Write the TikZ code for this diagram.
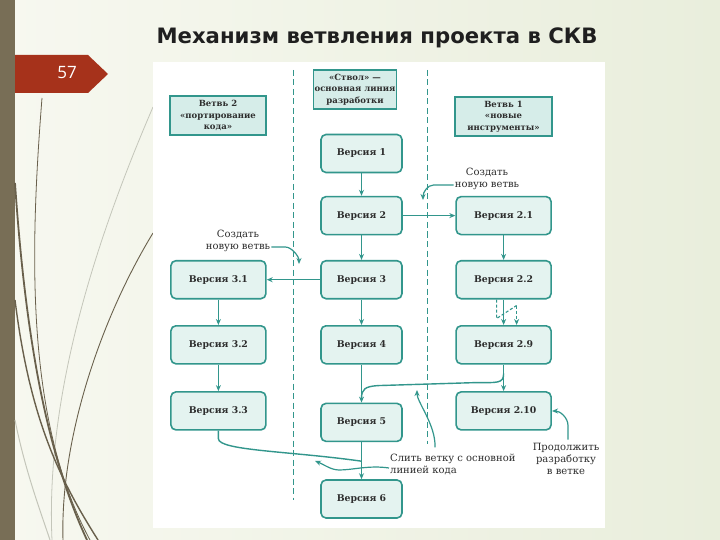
\documentclass[tikz,border=0pt]{standalone}
\usepackage{fontspec}
\usetikzlibrary{positioning, arrows.meta, calc}
\newfontfamily\diagfont{DejaVu Serif}
\newfontfamily\titlefont{DejaVu Sans}
\newfontfamily\numfont{Open Sans}

\definecolor{bgleft}{RGB}{247,248,240}
\definecolor{bgright}{RGB}{233,238,220}
\definecolor{stripbrown}{RGB}{120,110,86}
\definecolor{tabred}{RGB}{166,50,27}
\definecolor{grassdark}{RGB}{105,96,76}
\definecolor{grasslight}{RGB}{196,198,186}
\definecolor{tealline}{RGB}{50,150,140}
\definecolor{boxfill}{RGB}{228,243,240}
\definecolor{headfill}{RGB}{214,237,233}
\definecolor{inkgray}{RGB}{45,45,45}

\tikzset{
  verbox/.style={draw=tealline, fill=boxfill, line width=1.6pt, rounded corners=5pt,
    minimum width=81pt, minimum height=38pt, text=inkgray,
    font=\diagfont\bfseries\fontsize{9.3}{12}\selectfont},
  widebox/.style={verbox, minimum width=95pt},
  headbox/.style={draw=tealline, fill=headfill, line width=1.6pt, align=center,
    minimum height=39pt, inner sep=1pt, text=inkgray,
    font=\diagfont\bfseries\fontsize{8.5}{11.5}\selectfont},
  note/.style={align=center, text=inkgray, inner sep=2pt,
    font=\diagfont\fontsize{10}{12}\selectfont},
  flowline/.style={draw=tealline, line width=1.4pt},
  flow/.style={flowline, -{Stealth[length=6pt,width=5pt]}},
  callout/.style={draw=tealline, line width=1.2pt, -{Stealth[length=6pt,width=5pt]}},
  sepline/.style={draw=tealline, line width=1pt, dash pattern=on 6pt off 3.5pt},
}

\begin{document}
\begin{tikzpicture}[x=1pt, y=-1pt]
\useasboundingbox (0,0) rectangle (720,540);

% slide background
\shade[left color=bgleft, right color=bgright] (0,0) rectangle (720,540);
\fill[stripbrown] (0,0) rectangle (14.5,540);
\draw[grasslight, line width=0.8pt] (153,107) .. controls (100,230) and (45,390) .. (52,540);
\draw[grasslight, line width=1pt] (15,420) .. controls (25,470) and (40,510) .. (50,540);
\draw[grassdark, line width=0.9pt] (153,233) .. controls (100,320) and (60,440) .. (63,540);
\draw[grassdark, line width=0.8pt] (42,98) .. controls (30,250) and (25,420) .. (90,540);
\draw[grassdark, line width=1.8pt] (15,183) .. controls (25,330) and (45,450) .. (87,540);
\draw[grassdark, line width=1.4pt] (15,300) .. controls (30,420) and (60,480) .. (98,540);

% page tab and title
\fill[tabred] (15,55) -- (88,55) -- (108,74) -- (88,93) -- (15,93) -- cycle;
\node (pagenum) at (67,73) [text=white, font=\numfont\fontsize{17}{17}\selectfont] {57};
\node (title) at (377,38) [text=black!88, font=\titlefont\bfseries\fontsize{21.2}{24}\selectfont]
  {Механизм ветвления проекта в СКВ};

% white panel
\fill[white] (153,62) rectangle (605,528);

% branch separators
\draw[sepline] (293,70) -- (293,500);
\draw[sepline] (427,70) -- (427,444);

% headers
\node (hbranch2) [headbox, minimum width=96pt] at (218,115.5) {Ветвь 2\\«портирование\\кода»};
\node (htrunk) [headbox, minimum width=83pt] at (355,89.5) {«Ствол» —\\основная линия\\разработки};
\node (hbranch1) [headbox, minimum width=97pt] at (503.5,116.5) {Ветвь 1\\«новые\\инструменты»};

% trunk
\node (v1) [verbox] at (361.5,153.5) {Версия 1};
\node (v2) [verbox, below=22.5pt of v1] {Версия 2};
\node (v3) [verbox, below=24.5pt of v2] {Версия 3};
\node (v4) [verbox, below=25.5pt of v3] {Версия 4};
\node (v5) [verbox, below=38pt of v4] {Версия 5};
\node (v6) [verbox, below=37pt of v5] {Версия 6};

% branch 1
\node (v21) [widebox, right=52.5pt of v2] {Версия 2.1};
\node (v22) [widebox, right=52.5pt of v3] {Версия 2.2};
\node (v29) [widebox, right=52.5pt of v4] {Версия 2.9};
\node (v210) [widebox, below=26.5pt of v29] {Версия 2.10};

% branch 2
\node (v31) [widebox, left=53.5pt of v3] {Версия 3.1};
\node (v32) [widebox, left=53.5pt of v4] {Версия 3.2};
\node (v33) [widebox, below=26.5pt of v32] {Версия 3.3};

% notes
\node (nnew1) [note] at (487,179) {Создать\\новую ветвь};
\node (nnew2) [note] at (238,241) {Создать\\новую ветвь};
\node (nmerge) [note, align=left, anchor=west] at (388,464) {Слить ветку с основной\\линией кода};
\node (ncont) [note] at (566,458.5) {Продолжить\\разработку\\в ветке};

\coordinate (newtip1) at (423,200);
\coordinate (newtip2) at (299,264);
\coordinate (mergetip1) at (315,461);
\coordinate (mergetip2) at (417,390);
\coordinate (conttip) at (552,411);

% versions
\draw[flow] (v1) -- (v2);
\draw[flow] (v2) -- (v3);
\draw[flow] (v3) -- (v4);
\draw[flow] (v4) -- (v5);
\draw[flow] (v5) -- (v6);
\draw[flow] (v2) -- (v21);
\draw[flow] (v3) -- (v31);
\draw[flow] (v21) -- (v22);
\draw[flow] (v22) -- (v29);
\draw[flow] (v29) -- (v210);
\draw[flow] (v31) -- (v32);
\draw[flow] (v32) -- (v33);

% skipped versions 2.3 ... 2.8
\draw[flowline, line width=1.1pt, dash pattern=on 3pt off 2pt] ($(v22.south)+(-7,0)$) -- ++(0,19) -- ($(v22.south)+(13,6)$);
\draw[flow, line width=1.1pt, dash pattern=on 3pt off 2pt] ($(v22.south)+(13,6)$) -- ($(v29.north)+(13,0)$);

% merges
\draw[flowline] ($(v29.south)+(0,9)$) .. controls +(0,10) and +(22,0) .. ($(v29.south)+(-28,18)$)
  -- ($(v4.south)+(16,21)$) .. controls +(-12,1) and +(0,-10) .. ($(v4.south)+(0,34)$);
\draw[flowline] (v33.south) -- ++(0,8) .. controls +(0,12) and +(-70,-10) .. ($(v5.south)+(0,19)$);

% callouts
\draw[callout] ($(nnew1.west)+(1,6)$) -- ++(-20,0) .. controls +(-6,0) and +(0,-8) .. (newtip1);
\draw[callout] ($(nnew2.east)+(-1,6)$) -- ++(14,0) .. controls +(6,0) and +(0,-8) .. (newtip2);
\draw[callout] ($(nmerge.west)+(1,4)$) .. controls +(-20,-3) and +(14,0) .. ($(mergetip1)+(24,9)$)
  .. controls +(-8,0) and +(8,3) .. (mergetip1);
\draw[callout] ($(nmerge.north west)+(47,-4)$) .. controls +(1,-22) and +(0,12) .. (mergetip2);
\draw[callout] ($(ncont.north)+(2,-1)$) -- ++(0,-14) .. controls +(0,-8) and +(8,0) .. (conttip);

\end{tikzpicture}
\end{document}
